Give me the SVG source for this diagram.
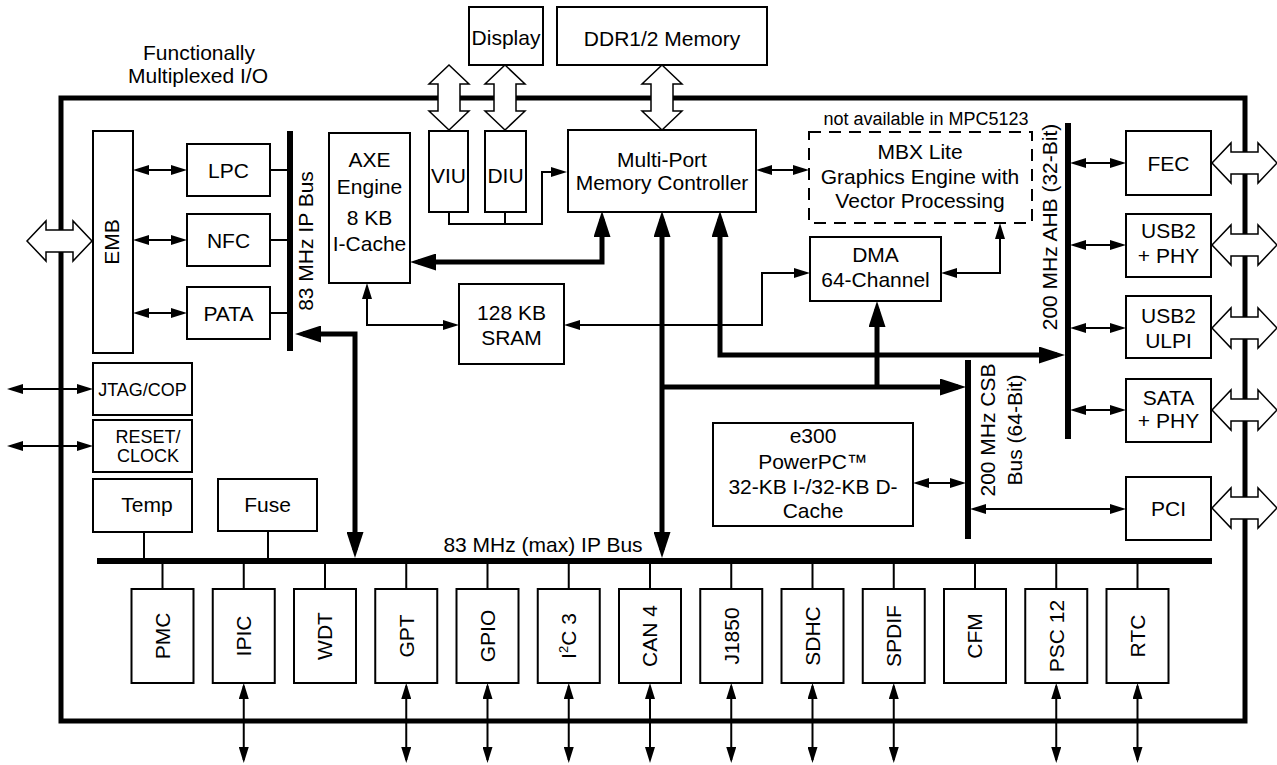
<svg xmlns="http://www.w3.org/2000/svg" width="1277" height="765" viewBox="0 0 1277 765">
<style>
text{font-family:"Liberation Sans",Arial,Helvetica,sans-serif;font-size:21px;fill:#000;text-anchor:middle}
.s{font-size:18px}
.box{fill:#fff;stroke:#000;stroke-width:2}
.dash{fill:none;stroke:#000;stroke-width:2;stroke-dasharray:12 8}
.thin{fill:none;stroke:#000;stroke-width:2}
.thick{fill:none;stroke:#000;stroke-width:5;stroke-linejoin:miter}
.bus{fill:none;stroke:#000;stroke-width:6}
.fat{fill:#fff;stroke:#000;stroke-width:1.5}
</style>
<defs>
<marker id="a" markerUnits="userSpaceOnUse" markerWidth="16" markerHeight="10" refX="13" refY="5" orient="auto-start-reverse" viewBox="0 0 16 10"><path d="M0,0 L16,5 L0,10 Z"/></marker>
<marker id="A" markerUnits="userSpaceOnUse" markerWidth="26" markerHeight="17" refX="18" refY="8.5" orient="auto-start-reverse" viewBox="0 0 26 17"><path d="M0,0 L26,8.5 L0,17 Z"/></marker>
<path id="fat" d="M0,0 L19,-20 L19,-11 L46,-11 L46,-20 L65,0 L46,20 L46,11 L19,11 L19,20 Z"/>
</defs>

<g id="title"><text x="199" y="60">Functionally</text><text x="198" y="83">Multiplexed I/O</text></g>

<g id="border"><rect x="61" y="98" width="1184" height="623" fill="none" stroke="#000" stroke-width="5"/></g>

<g id="buses">
<line class="bus" x1="290" y1="131" x2="290" y2="351"/>
<line class="bus" x1="97" y1="561" x2="1212" y2="561"/>
<line class="bus" x1="1068" y1="123" x2="1068" y2="439"/>
<line class="bus" x1="968" y1="360" x2="968" y2="539"/>
<text transform="translate(306,241) rotate(-90)" dy="0.35em">83 MHz IP Bus</text>
<text x="543" y="552">83 MHz (max) IP Bus</text>
<text transform="translate(1050,227) rotate(-90)" dy="0.35em">200 MHz AHB (32-Bit)</text>
<text transform="translate(988,430) rotate(-90)" dy="0.35em">200 MHz CSB</text>
<text transform="translate(1015,430) rotate(-90)" dy="0.35em">Bus (64-Bit)</text>
</g>

<g id="connectors">
<path class="thin" d="M136,170 H184" marker-start="url(#a)" marker-end="url(#a)"/>
<path class="thin" d="M136,240 H184" marker-start="url(#a)" marker-end="url(#a)"/>
<path class="thin" d="M136,313 H184" marker-start="url(#a)" marker-end="url(#a)"/>
<path class="thin" d="M270,170 H290 M270,240 H290 M270,313 H290"/>
<path class="thin" d="M10,389 H90" marker-start="url(#a)" marker-end="url(#a)"/>
<path class="thin" d="M10,446 H90" marker-start="url(#a)" marker-end="url(#a)"/>
<path class="thin" d="M759,170 H806" marker-start="url(#a)" marker-end="url(#a)"/>
<path class="thin" d="M449,212 V224 H542 V172 H564" marker-end="url(#a)"/>
<path class="thin" d="M505,212 V224"/>
<path class="thin" d="M367,286 V325 H456" marker-start="url(#a)" marker-end="url(#a)"/>
<path class="thin" d="M567,325 H762 V273 H807" marker-start="url(#a)" marker-end="url(#a)"/>
<path class="thin" d="M944,273 H1000 V226" marker-start="url(#a)" marker-end="url(#a)"/>
<path class="thin" d="M1073,163 H1123" marker-start="url(#a)" marker-end="url(#a)"/>
<path class="thin" d="M1073,245 H1123" marker-start="url(#a)" marker-end="url(#a)"/>
<path class="thin" d="M1073,328 H1123" marker-start="url(#a)" marker-end="url(#a)"/>
<path class="thin" d="M1073,410 H1123" marker-start="url(#a)" marker-end="url(#a)"/>
<path class="thin" d="M916,483 H963" marker-start="url(#a)" marker-end="url(#a)"/>
<path class="thin" d="M973,509 H1123" marker-start="url(#a)" marker-end="url(#a)"/>
<path class="thin" d="M144,532 V561 M268,531 V561"/>
<path class="thin" d="M162.5,561 V589 M243.75,561 V589 M325,561 V589 M406.25,561 V589 M487.5,561 V589 M568.75,561 V589 M650,561 V589 M731.25,561 V589 M812.5,561 V589 M893.75,561 V589 M975,561 V589 M1056.25,561 V589 M1137.5,561 V589"/>
<g marker-start="url(#a)" marker-end="url(#a)">
<path class="thin" d="M243.75,686 V760"/>
<path class="thin" d="M406.25,686 V760"/>
<path class="thin" d="M487.5,686 V760"/>
<path class="thin" d="M568.75,686 V760"/>
<path class="thin" d="M650,686 V760"/>
<path class="thin" d="M731.25,686 V760"/>
<path class="thin" d="M812.5,686 V760"/>
<path class="thin" d="M893.75,686 V760"/>
<path class="thin" d="M1056.25,686 V760"/>
<path class="thin" d="M1137.5,686 V760"/>
</g>
<path class="thick" d="M602,219 V262 H418" marker-start="url(#A)" marker-end="url(#A)"/>
<path class="thick" d="M662,219 V550" marker-start="url(#A)" marker-end="url(#A)"/>
<path class="thick" d="M720,219 V355 H1057" marker-start="url(#A)" marker-end="url(#A)"/>
<path class="thick" d="M662,387 H958" marker-end="url(#A)"/>
<path class="thick" d="M877,387 V309" marker-end="url(#A)"/>
<path class="thick" d="M303,334 H355 V550" marker-start="url(#A)" marker-end="url(#A)"/>
</g>

<g id="fat-arrows">
<use href="#fat" class="fat" transform="translate(27,241)"/>
<use href="#fat" class="fat" transform="translate(449,65) rotate(90)"/>
<use href="#fat" class="fat" transform="translate(505,65) rotate(90)"/>
<use href="#fat" class="fat" transform="translate(662,65) rotate(90)"/>
<use href="#fat" class="fat" transform="translate(1212,163)"/>
<use href="#fat" class="fat" transform="translate(1212,245)"/>
<use href="#fat" class="fat" transform="translate(1212,328)"/>
<use href="#fat" class="fat" transform="translate(1212,410)"/>
<use href="#fat" class="fat" transform="translate(1212,508)"/>
</g>

<g id="display"><rect class="box" x="469" y="7" width="74" height="58"/><text x="506" y="45">Display</text></g>
<g id="ddr"><rect class="box" x="557" y="7" width="210" height="58"/><text x="662" y="46">DDR1/2 Memory</text></g>
<g id="emb"><rect class="box" x="93" y="131" width="40" height="222"/><text transform="translate(112,242) rotate(-90)" dy="0.35em">EMB</text></g>
<g id="lpc"><rect class="box" x="187" y="144" width="83" height="52"/><text x="228.5" y="178">LPC</text></g>
<g id="nfc"><rect class="box" x="187" y="214" width="83" height="52"/><text x="228.5" y="248">NFC</text></g>
<g id="pata"><rect class="box" x="187" y="287" width="83" height="52"/><text x="228.5" y="321">PATA</text></g>
<g id="axe"><rect class="box" x="329" y="133" width="81" height="150"/><text x="369.5" y="167">AXE</text><text x="369.5" y="194">Engine</text><text x="369.5" y="225">8 KB</text><text x="369.5" y="251">I-Cache</text></g>
<g id="viu"><rect class="box" x="429" y="131" width="39" height="81"/><text x="448.5" y="183">VIU</text></g>
<g id="diu"><rect class="box" x="485" y="131" width="41" height="81"/><text x="505.5" y="183">DIU</text></g>
<g id="mpmc"><rect class="box" x="568" y="130" width="188" height="82"/><text x="662" y="167">Multi-Port</text><text x="662" y="190">Memory Controller</text></g>
<g id="mbx"><text class="s" x="926" y="125">not available in MPC5123</text><rect class="dash" x="809" y="132" width="223" height="91"/><text x="920" y="159">MBX Lite</text><text x="920" y="184">Graphics Engine with</text><text x="920" y="208">Vector Processing</text></g>
<g id="dma"><rect class="box" x="810" y="237" width="131" height="64"/><text x="875.5" y="262">DMA</text><text x="875.5" y="287">64-Channel</text></g>
<g id="sram"><rect class="box" x="459" y="284" width="105" height="80"/><text x="511.5" y="320">128 KB</text><text x="511.5" y="345">SRAM</text></g>
<g id="e300"><rect class="box" x="713" y="423" width="200" height="103"/><text x="813" y="443">e300</text><text x="813" y="469">PowerPC™</text><text x="813" y="494">32-KB I-/32-KB D-</text><text x="813" y="518">Cache</text></g>
<g id="fec"><rect class="box" x="1126" y="131" width="85" height="64"/><text x="1168.5" y="171">FEC</text></g>
<g id="usb2phy"><rect class="box" x="1126" y="214" width="85" height="63"/><text x="1168.5" y="238">USB2</text><text x="1168.5" y="263">+ PHY</text></g>
<g id="usb2ulpi"><rect class="box" x="1126" y="296" width="85" height="62"/><text x="1168.5" y="323">USB2</text><text x="1168.5" y="348">ULPI</text></g>
<g id="sata"><rect class="box" x="1126" y="379" width="85" height="63"/><text x="1168.5" y="405">SATA</text><text x="1168.5" y="428">+ PHY</text></g>
<g id="pci"><rect class="box" x="1126" y="477" width="85" height="63"/><text x="1168.5" y="516">PCI</text></g>
<g id="jtag"><rect class="box" x="93" y="363" width="99" height="52"/><text class="s" x="142.5" y="396">JTAG/COP</text></g>
<g id="reset"><rect class="box" x="93" y="420" width="99" height="52"/><text class="s" x="148" y="443">RESET/</text><text class="s" x="148" y="462">CLOCK</text></g>
<g id="temp"><rect class="box" x="93" y="479" width="99" height="53"/><text x="147" y="512">Temp</text></g>
<g id="fuse"><rect class="box" x="218" y="479" width="99" height="52"/><text x="267.5" y="512">Fuse</text></g>

<g id="pmc"><rect class="box" x="131.5" y="589" width="62" height="94"/><text transform="translate(162.5,636) rotate(-90)" dy="0.35em">PMC</text></g>
<g id="ipic"><rect class="box" x="212.75" y="589" width="62" height="94"/><text transform="translate(243.75,636) rotate(-90)" dy="0.35em">IPIC</text></g>
<g id="wdt"><rect class="box" x="294" y="589" width="62" height="94"/><text transform="translate(325,636) rotate(-90)" dy="0.35em">WDT</text></g>
<g id="gpt"><rect class="box" x="375.25" y="589" width="62" height="94"/><text transform="translate(406.25,636) rotate(-90)" dy="0.35em">GPT</text></g>
<g id="gpio"><rect class="box" x="456.5" y="589" width="62" height="94"/><text transform="translate(487.5,636) rotate(-90)" dy="0.35em">GPIO</text></g>
<g id="i2c"><rect class="box" x="537.75" y="589" width="62" height="94"/><text transform="translate(568.75,636) rotate(-90)" dy="0.35em">I<tspan font-size="13" dy="-8">2</tspan><tspan dy="8">C 3</tspan></text></g>
<g id="can"><rect class="box" x="619" y="589" width="62" height="94"/><text transform="translate(650,636) rotate(-90)" dy="0.35em">CAN 4</text></g>
<g id="j1850"><rect class="box" x="700.25" y="589" width="62" height="94"/><text transform="translate(731.25,636) rotate(-90)" dy="0.35em">J1850</text></g>
<g id="sdhc"><rect class="box" x="781.5" y="589" width="62" height="94"/><text transform="translate(812.5,636) rotate(-90)" dy="0.35em">SDHC</text></g>
<g id="spdif"><rect class="box" x="862.75" y="589" width="62" height="94"/><text transform="translate(893.75,636) rotate(-90)" dy="0.35em">SPDIF</text></g>
<g id="cfm"><rect class="box" x="944" y="589" width="62" height="94"/><text transform="translate(975,636) rotate(-90)" dy="0.35em">CFM</text></g>
<g id="psc"><rect class="box" x="1025.25" y="589" width="62" height="94"/><text transform="translate(1056.25,636) rotate(-90)" dy="0.35em">PSC 12</text></g>
<g id="rtc"><rect class="box" x="1106.5" y="589" width="62" height="94"/><text transform="translate(1137.5,636) rotate(-90)" dy="0.35em">RTC</text></g>
</svg>
